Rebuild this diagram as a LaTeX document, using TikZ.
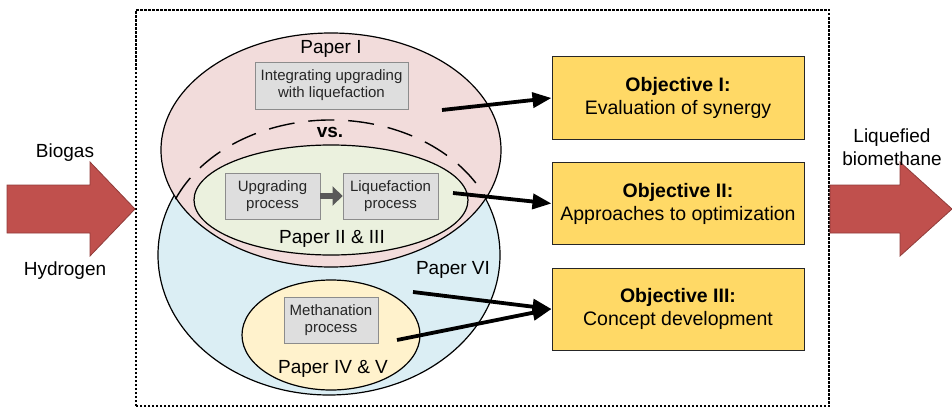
\documentclass[tikz,border=0pt]{standalone}
\usepackage{fontspec}
\setmainfont{Liberation Sans}
\setsansfont{Liberation Sans}
\usepackage{tikz}
\usetikzlibrary{arrows.meta,positioning,calc,shapes.geometric}
\definecolor{thRed}{HTML}{C0504D}
\definecolor{thPink}{HTML}{F2DCDB}
\definecolor{thBlue}{HTML}{DBEEF4}
\definecolor{thGreen}{HTML}{EBF1DE}
\definecolor{thCream}{HTML}{FFF2CC}
\definecolor{thGold}{HTML}{FFD966}
\definecolor{thGrey}{HTML}{DEDEDE}
\newcommand{\papfont}{\fontsize{19}{23}\selectfont}
\newcommand{\procfont}{\fontsize{15}{17}\selectfont}
\tikzset{
    every picture/.style={font=\sffamily},
    paper/.style={ellipse, draw=black, line width=1.2pt, inner sep=0pt},
    proc/.style={draw=black!45, line width=0.8pt, fill=thGrey, align=center, minimum width=95pt, minimum height=46pt, inner sep=0pt, font=\procfont, text=black!85},
    objective/.style={draw=black!85, line width=1pt, fill=thGold, align=center, minimum width=252pt, minimum height=82pt, inner sep=0pt, font=\fontsize{19.5}{23}\selectfont},
    txt/.style={anchor=base, font=\papfont, inner sep=0pt},
    bigarrow/.style={fill=thRed, draw=thRed!75!black, line width=0.8pt},
    linkarrow/.style={-{Triangle[length=19pt, width=15pt]}, line width=3.8pt, draw=black},
    procarrow/.style={-{Triangle[length=10pt, width=19pt]}, line width=6pt, draw=black!65},
    outerframe/.style={draw=black, line width=1.7pt, dash pattern=on 2.5pt off 1.5pt}
}
\begin{document}
\begin{tikzpicture}[x=1pt, y=1pt]
\useasboundingbox (0,0) rectangle (952,408);
\draw[outerframe] (136,2) rectangle (829,398);
\draw[bigarrow] (7,175) -- (90,175) -- (90,152) -- (135,199) -- (90,246) -- (90,223) -- (7,223) -- cycle;
\draw[bigarrow] (830,175) -- (900,175) -- (900,152) -- (952,199) -- (900,246) -- (900,223) -- (830,223) -- cycle;
\node[txt] (biogas) at (65,251) {Biogas};
\node[txt] (hydrogen) at (65,133) {Hydrogen};
\node[txt, align=center, anchor=center] (lbm) at (892,261) {Liquefied\\biomethane};
\node[paper, fill=thBlue, minimum width=342pt, minimum height=280pt] (pvi) at (329,153) {};
\node[paper, fill=thPink, minimum width=340pt, minimum height=234pt] (pi) at (331,258) {};
\coordinate (vsc) at (331,158);
\draw[line width=1.4pt, dash pattern=on 26pt off 14pt] ($(vsc)+(157:169pt and 130pt)$) arc[start angle=157, end angle=23, x radius=169pt, y radius=130pt];
\node[paper, fill=thGreen, minimum width=274pt, minimum height=110pt] (pii) at (331,208) {};
\node[paper, fill=thCream, minimum width=178pt, minimum height=110pt] (piv) at (331,73) {};
\node[proc, minimum width=153pt, minimum height=47pt] (integ) at (331.5,322.5) {Integrating upgrading\\with liquefaction};
\node[proc] (upg) at (272.5,212) {Upgrading\\process};
\node[proc] (liq) at (390.5,212) {Liquefaction\\process};
\node[proc, minimum width=94pt] (meth) at (331,88) {Methanation\\process};
\draw[procarrow] (upg.east) -- (liq.west);
\node[txt] (tpi) at (331,354) {Paper I};
\node[txt, font=\papfont\bfseries] (vs) at (330,271) {vs.};
\node[txt] (tpii) at (332,165) {Paper II \& III};
\node[txt] (tpvi) at (453,134) {Paper VI};
\node[txt] (tpiv) at (333,35) {Paper IV \& V};
\node[objective] (obj1) at (678,310) {\textbf{Objective I:}\\Evaluation of synergy};
\node[objective] (obj2) at (678,204.5) {\textbf{Objective II:}\\Approaches to optimization};
\node[objective] (obj3) at (678,99) {\textbf{Objective III:}\\Concept development};
\coordinate (s1) at (442,298);
\coordinate (s2) at (453,215);
\coordinate (s3) at (413,116);
\coordinate (s4) at (397,68);
\draw[linkarrow] (s1) -- (obj1.west);
\draw[linkarrow] (s2) -- (obj2.west);
\draw[linkarrow] (s3) -- (obj3.west);
\draw[linkarrow] (s4) -- (obj3.west);
\end{tikzpicture}
\end{document}
